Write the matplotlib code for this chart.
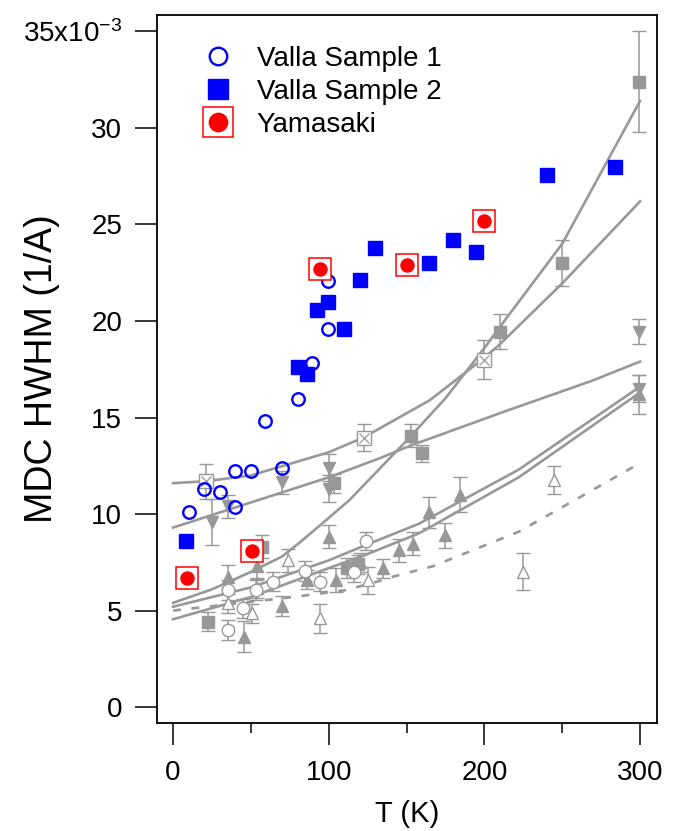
import matplotlib
matplotlib.use('Agg')
import matplotlib.pyplot as plt
from matplotlib.lines import Line2D

plt.rcParams['font.family'] = ['Liberation Sans', 'DejaVu Sans']
plt.rcParams['mathtext.fontset'] = 'custom'
plt.rcParams['mathtext.rm'] = 'Liberation Sans'
plt.rcParams['mathtext.it'] = 'Liberation Sans:italic'
plt.rcParams['mathtext.bf'] = 'Liberation Sans:bold'

GRAY = '#989898'

# Valla / Yamasaki data (MDC HWHM in units of 1e-3 1/A)
valla1_T = [10, 20, 30, 40, 40, 50, 59, 70, 80, 89.5, 99.4, 99.4]
valla1_w = [10.1, 11.3, 11.15, 12.24, 10.35, 12.24, 14.8, 12.38, 15.96, 17.84, 19.57, 22.07]
valla2_T = [8.3, 80, 86, 92.3, 99.8, 110, 120, 130, 164.7, 179.7, 194.7, 240, 284]
valla2_w = [8.6, 17.6, 17.25, 20.55, 20.97, 19.6, 22.1, 23.8, 23.0, 24.2, 23.6, 27.55, 27.96]
yama_T = [9, 50.6, 94.7, 150, 199.8]
yama_w = [6.7, 8.1, 22.7, 22.9, 25.2]

# gray comparison data with error bars
sq_T = [22.5, 57, 103.6, 112, 119, 152.8, 159.6, 210, 250, 299.6]
sq_w = [4.42, 8.3, 11.59, 7.2, 7.4, 14.06, 13.14, 19.45, 23.0, 32.4]
sq_e = [0.5, 0.6, 0.5, 0.5, 0.5, 0.6, 0.45, 0.9, 1.2, 2.6]

xsq_T = [21, 122.6, 200]
xsq_w = [11.7, 13.95, 18.0]
xsq_e = [0.9, 0.7, 1.0]

dn_T = [24.8, 35.4, 70, 100.4, 100.4, 299.6, 299.6]
dn_w = [9.6, 10.4, 11.65, 12.4, 11.3, 19.45, 16.5]
dn_e = [1.2, 0.6, 0.6, 0.7, 0.7, 0.65, 0.7]

up_T = [35.5, 45.5, 54, 70.3, 86, 100, 104.9, 120, 135, 144.9, 154, 164.3, 174.6, 184.6, 299.4]
up_w = [6.75, 3.64, 7.3, 5.23, 6.6, 8.82, 6.58, 7.5, 7.18, 8.13, 8.47, 10.1, 8.9, 11.0, 16.2]
up_e = [0.6, 0.8, 0.6, 0.5, 0.5, 0.6, 0.6, 0.5, 0.5, 0.6, 0.6, 0.8, 0.65, 0.9, 1.0]

oup_T = [35.5, 50.4, 54, 74, 94.7, 125.2, 225, 244.9]
oup_w = [5.37, 4.85, 6.15, 7.6, 4.6, 6.58, 7.01, 11.76]
oup_e = [0.5, 0.5, 0.5, 0.6, 0.75, 0.7, 0.95, 0.73]

oc_T = [35.5, 35.5, 45, 53.6, 64.3, 84.6, 94.2, 116, 124]
oc_w = [6.06, 4.0, 5.11, 6.06, 6.5, 7.05, 6.5, 7.0, 8.6]
oc_e = [0.5, 0.5, 0.5, 0.5, 0.5, 0.5, 0.5, 0.5, 0.45]

# fitted curves
steep_T = [0, 25, 50, 70, 81, 100, 113, 150, 175, 200, 210, 250, 300]
steep_w = [5.4, 6.1, 7.0, 7.8, 8.5, 9.8, 10.7, 13.8, 16.0, 18.6, 19.7, 24.0, 31.4]
quad_T = [0, 21, 50, 100, 122, 165, 200, 210, 250, 300]
quad_w = [11.6, 11.7, 12.0, 13.2, 13.95, 15.9, 18.1, 18.8, 21.95, 26.2]
lin_T = [0, 50, 100, 133, 153, 216, 269, 300]
lin_w = [9.3, 10.6, 11.9, 12.9, 13.56, 15.4, 16.9, 17.9]
pairA_T = [0, 50, 100, 124, 158, 222, 300]
pairA_w = [5.2, 6.2, 7.6, 8.4, 9.5, 12.3, 16.6]
pairB_T = [0, 50, 100, 124, 158, 222, 300]
pairB_w = [4.55, 5.7, 7.2, 7.9, 9.0, 11.9, 16.3]
dash_T = [0, 77, 111, 131, 141, 167, 222, 297]
dash_w = [5.0, 5.7, 6.06, 6.5, 6.75, 7.3, 9.08, 12.5]

ytick_vals = [0, 5, 10, 15, 20, 25, 30, 35]
ytick_labels = ['0', '5', '10', '15', '20', '25', '30', r'35x10$^{-3}$']
xtick_vals = [0, 100, 200, 300]


def gray_err(ax, T, w, e, marker, filled, ms=9):
    ax.errorbar(T, w, yerr=e, fmt=marker, color=GRAY, ecolor=GRAY,
                mfc=GRAY if filled else 'white', mec=GRAY, ms=ms, mew=1.0,
                elinewidth=1.1, capsize=5, capthick=1.1, zorder=3)


fig = plt.figure(figsize=(6.83, 8.31), dpi=100)
ax = fig.add_axes([0.2299, 0.1303, 0.7321, 0.8516])

for T, w in [(steep_T, steep_w), (quad_T, quad_w), (lin_T, lin_w),
             (pairA_T, pairA_w), (pairB_T, pairB_w)]:
    ax.plot(T, w, color=GRAY, lw=1.9, zorder=2)
ax.plot(dash_T, dash_w, color=GRAY, lw=1.9, ls=(0, (3, 4)), zorder=2)

gray_err(ax, sq_T, sq_w, sq_e, 's', True)
gray_err(ax, xsq_T, xsq_w, xsq_e, 's', False, ms=10)
ax.plot(xsq_T, xsq_w, ls='none', marker='x', color=GRAY, ms=7.5, mew=0.9, zorder=4)
gray_err(ax, dn_T, dn_w, dn_e, 'v', True)
gray_err(ax, up_T, up_w, up_e, '^', True)
gray_err(ax, oup_T, oup_w, oup_e, '^', False)
gray_err(ax, oc_T, oc_w, oc_e, 'o', False)

ax.plot(valla1_T, valla1_w, ls='none', marker='o', mfc='none', mec='blue',
        ms=9, mew=1.7, zorder=5)
ax.plot(valla2_T, valla2_w, ls='none', marker='s', color='blue', ms=10, zorder=5)
ax.plot(yama_T, yama_w, ls='none', marker='s', mfc='white', mec='red',
        ms=15.8, mew=1.1, zorder=6)
ax.plot(yama_T, yama_w, ls='none', marker='o', color='red', ms=9.4, zorder=7)

ax.set_xlim(-10.3, 310.9)
ax.set_ylim(-0.81, 35.85)
ax.set_xticks(xtick_vals)
ax.set_xticks([50, 150, 250], minor=True)
ax.set_yticks(ytick_vals)
ax.set_yticklabels(ytick_labels)
ax.tick_params(axis='both', which='major', direction='out', length=16, width=1.1,
               labelsize=20, color='black')
ax.tick_params(axis='x', which='major', pad=11)
ax.tick_params(axis='y', which='major', pad=9)
ax.tick_params(axis='x', which='minor', direction='out', length=7.5, width=1.1)
for sp in ax.spines.values():
    sp.set_linewidth(1.3)

ax.set_xlabel('T (K)', fontsize=21, labelpad=10)
ax.set_ylabel('MDC HWHM (1/A)', fontsize=27)
ax.yaxis.set_label_coords(-0.194, 0.5)

h1 = Line2D([], [], ls='none', marker='o', mfc='none', mec='blue', ms=9, mew=1.7)
h2 = Line2D([], [], ls='none', marker='s', color='blue', ms=10)
h3a = Line2D([], [], ls='none', marker='s', mfc='white', mec='red', ms=15.8, mew=1.1)
h3b = Line2D([], [], ls='none', marker='o', color='red', ms=9.4)
ax.legend([h1, h2, (h3a, h3b)], ['Valla Sample 1', 'Valla Sample 2', 'Yamasaki'],
          loc='upper left', bbox_to_anchor=(0.094, 0.956), frameon=False,
          fontsize=20, markerscale=1.4, handlelength=1.0, handletextpad=0.9,
          labelspacing=0.25, borderpad=0, borderaxespad=0)

fig.savefig('out.png', dpi=100)
